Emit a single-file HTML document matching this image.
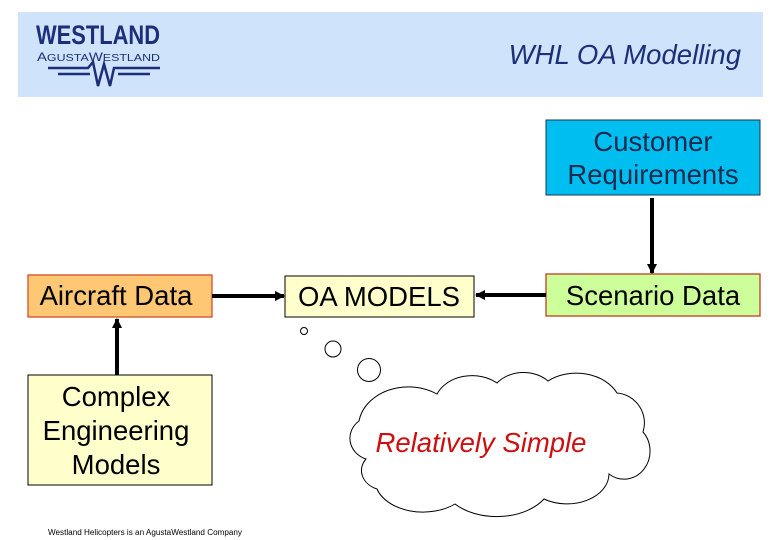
<!DOCTYPE html>
<html><head><meta charset="utf-8"><style>
html,body{margin:0;padding:0;background:#fff;}
svg{display:block;font-family:"Liberation Sans",Arial,sans-serif;}
</style></head><body>
<svg width="780" height="540" viewBox="0 0 780 540" xmlns="http://www.w3.org/2000/svg">
<defs>
<marker id="ah" markerWidth="10" markerHeight="10" refX="9" refY="5" orient="auto" markerUnits="userSpaceOnUse">
<path d="M0,0 L10,5 L0,10 z" fill="#000"/></marker>
</defs>
<rect x="18" y="12" width="745" height="85" fill="#cfe4fb"/>
<text x="36" y="44" font-size="27" font-weight="bold" fill="#1c2f78" textLength="124" lengthAdjust="spacingAndGlyphs">WESTLAND</text>
<text x="37" y="61" font-size="12" fill="#1c2f78" textLength="123" lengthAdjust="spacingAndGlyphs">A<tspan font-size="10">GUSTA</tspan>W<tspan font-size="10">ESTLAND</tspan></text>
<path d="M48,68 H88 L93,62 L98,86 L104,64 L110,86 L114,68 H160 M58,74 H90 M118,74 H150" stroke="#1c2f78" stroke-width="2.5" fill="none"/>
<text x="741" y="64" font-size="27.5" font-style="italic" fill="#1c2f78" text-anchor="end">WHL OA Modelling</text>

<rect x="546" y="120" width="214" height="75" fill="#00bff0" stroke="#1c3050" stroke-width="1"/>
<text x="653" y="151" font-size="27.5" text-anchor="middle" fill="#1a2a50">Customer</text>
<text x="653" y="184" font-size="27.5" text-anchor="middle" fill="#1a2a50">Requirements</text>

<rect x="28" y="275" width="184" height="42" fill="#fdc773" stroke="#d0502a" stroke-width="1.3"/>
<text x="116" y="305" font-size="27.5" text-anchor="middle">Aircraft Data</text>

<rect x="285" y="276" width="189" height="41" fill="#ffffcc" stroke="#000" stroke-width="1"/>
<text x="379" y="306" font-size="27.5" text-anchor="middle">OA MODELS</text>

<rect x="546" y="274" width="214" height="42" fill="#ccff99" stroke="#c04020" stroke-width="1.3"/>
<text x="653" y="305" font-size="27.5" text-anchor="middle">Scenario Data</text>

<rect x="28" y="375" width="184" height="110" fill="#ffffcc" stroke="#000" stroke-width="1"/>
<text x="116" y="406" font-size="27.5" text-anchor="middle">Complex</text>
<text x="116" y="440" font-size="27.5" text-anchor="middle">Engineering</text>
<text x="116" y="474" font-size="27.5" text-anchor="middle">Models</text>

<line x1="212" y1="296" x2="284" y2="296" stroke="#000" stroke-width="4" marker-end="url(#ah)"/>
<line x1="546" y1="295" x2="476" y2="295" stroke="#000" stroke-width="4" marker-end="url(#ah)"/>
<line x1="652" y1="198" x2="652" y2="273" stroke="#000" stroke-width="4" marker-end="url(#ah)"/>
<line x1="117" y1="375" x2="117" y2="319" stroke="#000" stroke-width="4" marker-end="url(#ah)"/>

<circle cx="304" cy="331" r="3.5" fill="none" stroke="#000" stroke-width="1"/>
<circle cx="333" cy="349" r="8" fill="none" stroke="#000" stroke-width="1"/>
<circle cx="369" cy="370" r="11.5" fill="none" stroke="#000" stroke-width="1"/>

<path d="M366,459 A24,22 0 0 1 359,421 A50,40 0 0 1 437,394 A38,30 0 0 1 497,383 A34,28 0 0 1 548,381 A45,35 0 0 1 617,393 A30,30 0 0 1 643,432 A26,28 0 0 1 609,474 A42,30 0 0 1 544,499 A55,36 0 0 1 455,504 A48,32 0 0 1 377,489 A25,20 0 0 1 366,459 Z" fill="#fff" stroke="#000" stroke-width="1"/>
<text x="481" y="452" font-size="27.5" font-style="italic" fill="#cc1010" text-anchor="middle">Relatively Simple</text>

<text x="48" y="535" font-size="8" fill="#000" textLength="194" lengthAdjust="spacingAndGlyphs">Westland Helicopters is an AgustaWestland Company</text>
</svg>
</body></html>
